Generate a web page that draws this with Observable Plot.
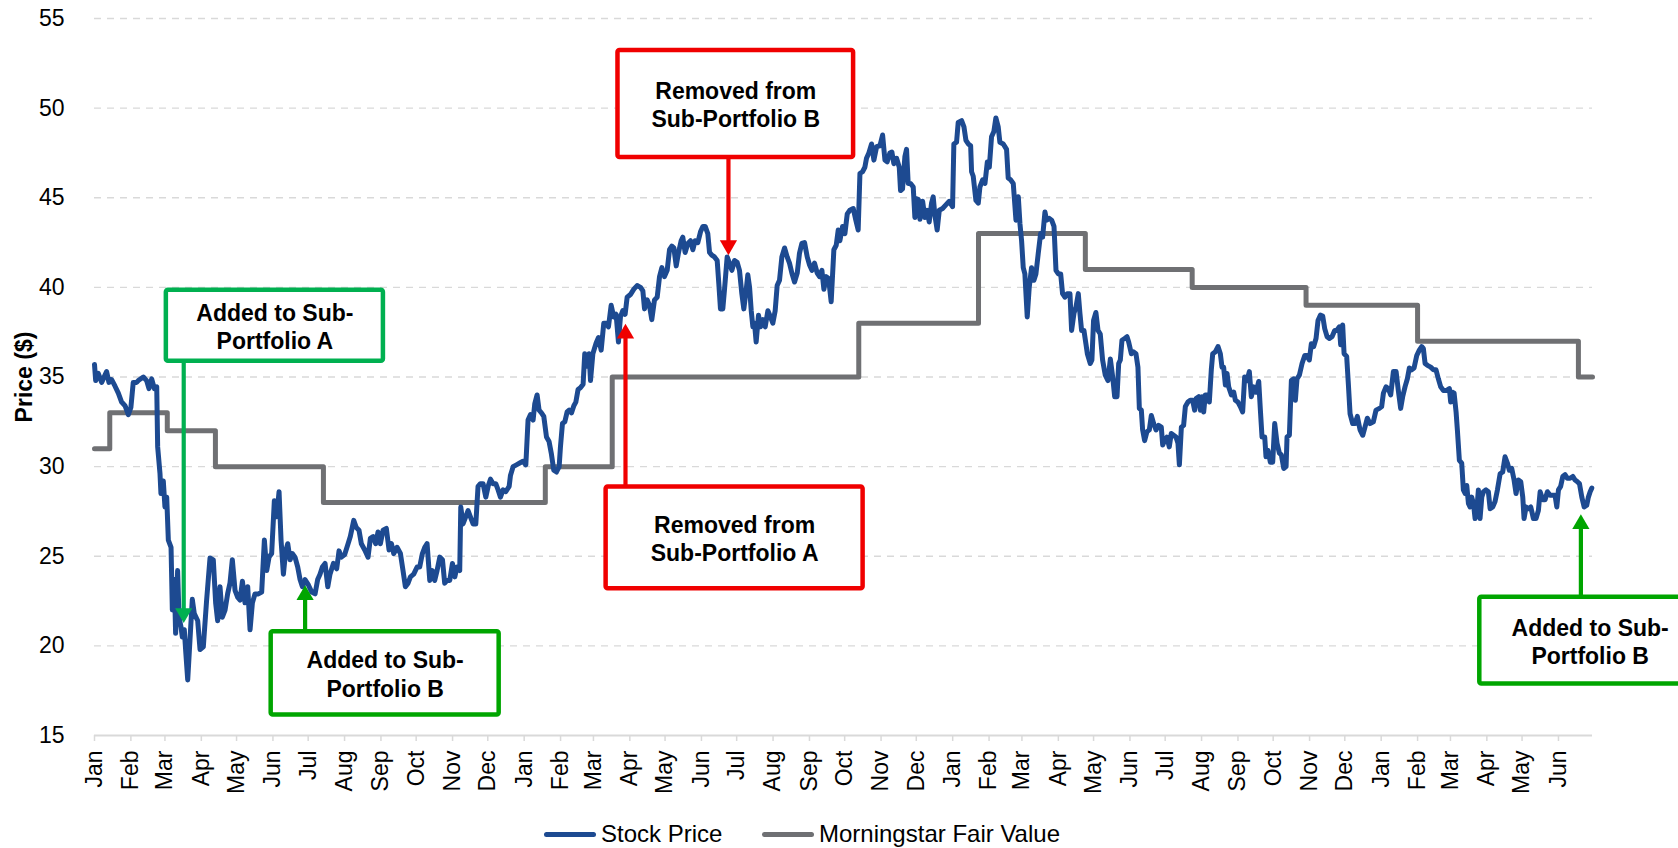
<!DOCTYPE html>
<html>
<head>
<meta charset="utf-8">
<script src="https://cdn.jsdelivr.net/npm/d3@7"></script>
<script src="https://cdn.jsdelivr.net/npm/@observablehq/plot@0.6"></script>
<style>
html, body { margin: 0; padding: 0; background: #fff; overflow: hidden; }
body { width: 1678px; height: 848px; font-family: "Liberation Sans", Arial, sans-serif; }
#legend { position: relative; height: 38px; }
.item { position: absolute; top: 5px; height: 38px; display: flex; align-items: center; font-size: 24px; color: #000; white-space: nowrap; }
.sw { display: inline-block; width: 52px; height: 5px; border-radius: 3px; margin-right: 5px; }
</style>
</head>
<body>
<div id="chart"></div>
<div id="legend"></div>
<script>
// ---------------- DATA ----------------
// Stock price: [days since 2020-01-01, price $]
const startDate = "2020-01-01";
const stockPrice = [
[0,35.7],[1,34.8],[3.2,35.2],[6.1,34.7],[10.3,35.3],[12.3,34.7],[14.6,34.85],[17.4,34.5],[20.3,34.1],[23.1,33.6],
[26,33.4],[28.8,32.9],[31,33.3],[33,34.7],[35.9,34.7],[37.3,34.8],[41.6,35.0],[44.4,34.8],[46.4,34.35],[48.7,34.9],
[51,34.35],[53,34.45],[53.8,31.1],[55.8,29.6],[56.6,28.5],[58.6,29.2],[60,27.75],[61.5,28.3],[62.9,25.9],[65.2,25.5],
[66.3,22.0],[68,23.7],[69.1,20.7],[70.8,24.2],[72,21.6],[73.7,21.05],[74.8,20.5],[76.5,20.9],[77.7,19.7],[79.4,18.1],
[81.3,20.3],[83.3,22.6],[85,21.8],[87.9,21.4],[89.9,19.8],[92.7,19.95],[95.5,22.55],[98.4,24.9],[101.2,24.8],[103.2,22.4],
[104.9,21.4],[106.9,23.3],[108.9,21.6],[111.2,22.0],[113.4,22.9],[115.4,23.5],[117.4,24.8],[119.7,23.1],[122,22.7],[124,22.55],
[126,23.6],[128.2,22.4],[130.5,23.3],[132.5,20.9],[134.5,22.4],[136.7,22.9],[139.6,22.9],[142.4,23.0],[144.7,25.9],[146.7,24.2],
[148.7,24.95],[150.9,25.15],[153.2,28.1],[155.2,27.2],[157.2,28.6],[158.9,25.9],[160.9,24.0],[162.9,25.3],[164.6,25.7],[166.6,24.8],
[168.5,25.15],[170.8,24.95],[173.1,24.4],[175.1,23.7],[177.1,23.3],[179.3,23.7],[182.2,23.4],[185,23.0],[187.9,22.9],[190.1,23.7],
[192.1,24.0],[194.1,24.4],[196.4,24.6],[198.7,23.3],[200.6,24.0],[203.5,24.6],[206.3,24.3],[208.3,25.3],[210.3,24.95],[213.1,25.1],
[216,25.7],[217.9,26.1],[220.8,27.0],[223,26.6],[225.3,26.45],[227.3,25.7],[230.2,25.35],[233,24.95],[235,26.0],[237.3,26.1],
[239.5,25.7],[241.5,26.35],[243.5,25.7],[245.8,26.45],[248.6,26.55],[250.9,25.35],[252.9,25.7],[254.9,25.15],[257.7,25.5],[260.6,25.15],
[262.8,24.2],[264.8,23.3],[267.1,23.5],[269.1,23.85],[271.9,24.0],[274.8,24.4],[277,24.4],[279.3,25.15],[281.3,25.5],[283.3,25.7],
[285.6,23.65],[287.8,24.2],[289.8,23.65],[291.8,24.2],[294.1,24.95],[296.4,24.8],[298.3,23.5],[300.3,23.65],[302.6,23.65],[304.9,24.6],
[306.9,23.85],[308.8,24.4],[311.1,24.2],[312,27.75],[313.9,26.8],[316.2,27.2],[318.2,27.55],[320.2,27.2],[322.5,26.8],[324.8,26.8],
[326.7,28.9],[328.7,29.05],[331,29.05],[333.3,28.3],[335.3,28.9],[337.3,29.3],[339.5,29.05],[341.8,29.05],[343.8,28.7],[345.8,28.3],
[348,28.7],[350.3,28.6],[353.2,28.9],[354.3,29.5],[356.6,30.0],[359.4,30.1],[362.2,30.2],[365,30.3],[367.4,30.1],[369.3,32.6],
[371.3,32.9],[373.6,32.6],[375,33.5],[377,34.0],[378.7,33.15],[380.7,33.0],[382.7,32.8],[385,31.65],[387.2,31.4],[389.2,30.7],
[391.2,29.8],[393.5,29.7],[395.8,30.0],[396.9,31.1],[398.6,32.4],[400.6,32.5],[402.6,33.05],[404.3,33.15],[406.3,33.0],[408.3,33.4],
[410,33.6],[411.9,34.3],[413.9,34.4],[416.2,34.6],[417.6,36.3],[419.6,35.6],[421.3,36.3],[422.5,34.8],[424.5,36.3],[427.3,36.9],
[429.3,37.2],[431.6,36.5],[433.8,38.0],[435.8,38.0],[437.8,37.8],[440.1,39.0],[442.3,38.35],[444.3,38.5],[446.3,36.95],[448,38.35],
[450,38.7],[452,38.5],[453.7,39.45],[456.5,39.6],[459.4,39.9],[462.2,40.1],[465.1,40.0],[467.1,39.8],[468.5,38.8],[470.8,39.3],
[472.7,39.0],[474.7,38.2],[477,39.3],[479.3,39.45],[481.3,40.6],[483.3,41.1],[485.5,40.6],[487.8,40.95],[489.8,42.1],[491.8,42.3],
[493.5,42.2],[495.5,41.2],[497.5,41.95],[499.7,42.6],[501.1,42.8],[503.1,41.95],[505.4,42.45],[507.7,42.6],[509.7,42.1],[511.6,42.6],
[513.9,42.5],[516.2,43.1],[518.2,43.4],[520.2,43.4],[522.4,43.0],[523.9,41.95],[525.8,41.8],[528.1,41.7],[530.4,41.5],[531.8,40.2],
[533.2,38.8],[535.2,38.8],[536.6,39.85],[538.9,41.7],[540.9,41.35],[542.9,40.95],[545.2,41.5],[547.4,41.4],[549.4,40.95],[551.4,39.65],
[553.1,38.8],[555.1,39.85],[556.5,40.7],[558,40.0],[559.4,38.7],[560.8,37.8],[562.2,38.0],[563.6,36.95],[565.6,38.45],[567.3,37.8],
[569.3,38.2],[571.3,37.8],[573.6,38.7],[575.8,38.35],[577.8,38.0],[579.8,38.7],[581.5,40.1],[583.5,40.4],[585.5,41.7],[587.8,42.2],
[590,41.7],[592,41.35],[594,40.8],[596.3,40.3],[598.6,40.8],[600.5,41.9],[602.5,42.45],[604.8,42.5],[607.1,41.7],[609.1,41.25],
[611.1,40.95],[613.3,41.35],[615.6,40.8],[617.6,40.6],[619.6,40.95],[621.3,39.9],[623.3,40.6],[625.3,40.5],[627.5,39.2],[629.8,42.1],
[631.8,42.35],[633.5,43.2],[634.9,42.6],[637.2,43.4],[639.2,43.0],[641.2,44.1],[643.4,44.3],[646.3,44.4],[648.5,43.75],[650.5,43.2],
[652,46.35],[654.2,46.45],[656.2,46.7],[657.6,47.2],[659.6,47.5],[661.9,48.0],[663.9,47.1],[666.2,47.85],[669,47.9],[671.3,48.5],
[673.3,47.1],[675.2,47.0],[677.5,47.5],[679.2,47.55],[680.9,46.9],[683.2,47.2],[685.5,46.7],[686.6,45.4],[688.3,45.5],[690.3,47.3],
[691.7,47.7],[693.1,45.8],[695.1,45.8],[697.4,45.6],[698.8,43.9],[700.2,44.95],[701.7,44.9],[703.1,43.8],[705.4,44.8],[707.3,43.9],
[709.3,44.3],[711,43.65],[713,44.7],[714.4,45.05],[715.9,44.0],[717.8,43.2],[719.6,44.3],[722.4,44.4],[725.2,44.6],[728.1,44.8],
[730.9,44.5],[732,48.0],[734.3,48.1],[735.7,49.2],[738.6,49.3],[740.6,48.95],[742.3,48.2],[744.3,48.0],[746.3,47.9],[747.1,46.45],
[748.5,46.2],[750.8,44.85],[752.8,44.7],[754.2,45.6],[756.5,46.0],[758.5,45.8],[760.5,47.0],[762.2,46.7],[764.1,48.4],[766.1,48.7],
[767.8,49.45],[769.8,48.95],[771.2,48.1],[774.1,48.0],[776.9,47.7],[778.3,46.1],[780.3,46.0],[782.6,45.8],[784.9,43.75],[786.9,45.05],
[788.3,43.55],[789.7,42.6],[791.1,41.1],[792.5,40.75],[794.5,38.35],[796.2,40.0],[798.2,41.1],[800.2,40.4],[801.9,40.75],[803.9,41.9],
[805.9,43.0],[807.6,42.8],[809.6,44.2],[811,43.75],[813.3,43.85],[815.3,43.75],[817.3,43.4],[819,40.95],[821,40.75],[823,40.75],
[824.6,39.65],[826.6,39.45],[828.6,39.65],[830.9,39.65],[832.3,37.6],[834.3,38.55],[836,38.9],[838,39.65],[839.4,38.55],[840.8,37.6],
[842.8,37.6],[844.5,36.85],[845.7,36.3],[848.2,35.75],[849.6,35.95],[851,38.15],[853,38.6],[854.8,37.6],[856.7,37.4],[858.7,35.95],
[861,35.1],[863.3,34.8],[865.3,36.0],[867.3,35.0],[869,33.9],[871,33.9],[872.4,35.75],[873.8,35.95],[875.2,37.05],[877.5,37.15],
[879.5,37.25],[880.9,36.95],[883.2,36.3],[885.1,36.4],[887.1,36.3],[888.8,35.55],[890,33.25],[891.7,33.15],[892.8,32.05],[894.5,31.45],
[896.5,31.95],[898.5,32.05],[900.2,32.85],[902.2,32.4],[904.2,32.05],[906.4,32.3],[908.7,32.2],[909.9,31.2],[911.5,31.45],[913.5,31.65],
[915.5,31.1],[917.2,31.85],[919.2,31.75],[921.2,31.65],[922.9,31.3],[924.1,30.1],[925.8,32.2],[927.7,32.3],[929.2,33.35],[931.4,33.6],
[933.4,33.7],[935.4,33.7],[937.1,33.15],[938.3,33.8],[940.5,33.9],[942,33.15],[943.4,33.9],[944.8,33.05],[946.2,34.0],[948.5,34.0],
[949.6,33.6],[951.3,35.4],[952.5,36.3],[954.7,36.4],[957,36.7],[959,36.3],[960.4,35.55],[961.8,35.55],[963.3,34.55],[964.7,35.2],
[966.1,34.45],[968.4,34.0],[970.4,34.15],[971.8,33.7],[974,33.6],[976,33.35],[978,33.05],[979.7,35.0],[981.7,34.8],[983.7,35.3],
[985.4,33.9],[987.4,34.45],[989.4,34.15],[991.7,34.75],[993.1,33.15],[994.5,31.65],[996.8,31.65],[997.9,30.55],[999.6,30.9],[1001.6,30.25],
[1003.6,30.25],[1005.3,32.4],[1007.3,31.3],[1009.3,30.75],[1011,30.65],[1013,29.9],[1015,30.0],[1015.8,31.65],[1017.8,31.75],[1019.5,34.8],
[1021.5,34.9],[1022.9,33.7],[1024.3,34.9],[1026.3,35.1],[1028.6,35.75],[1030.9,36.2],[1032.8,36.2],[1034.8,35.95],[1036.5,36.85],[1038.5,36.7],
[1040.5,37.15],[1042.2,38.15],[1044.2,38.45],[1046.2,38.4],[1047.9,37.7],[1049.9,37.25],[1051.9,37.15],[1054.1,37.25],[1056.4,37.6],[1058.1,37.6],
[1060.4,37.8],[1061.5,36.8],[1063.2,37.9],[1064.4,36.3],[1066.6,36.15],[1068,34.65],[1069.5,32.95],[1071.7,32.4],[1073.7,32.4],[1075.7,32.8],
[1078,32.05],[1080.3,31.75],[1082.2,32.2],[1084.2,32.7],[1086.5,32.4],[1089.3,32.5],[1091.6,33.15],[1094.5,33.25],[1096.4,33.35],[1097.9,34.1],
[1100.1,34.45],[1102.1,34.35],[1104.1,34.0],[1106.4,35.3],[1108.7,35.3],[1110.6,34.25],[1112.6,33.25],[1114.3,33.9],[1116.3,34.45],[1118.3,34.9],
[1120,35.5],[1122,35.4],[1124,35.5],[1126.3,36.2],[1128.5,36.5],[1130.5,36.7],[1131.9,36.6],[1133.4,35.75],[1135.4,35.65],[1138.2,35.55],
[1140.5,35.4],[1142.7,35.4],[1144.7,34.9],[1146.7,34.45],[1149,34.25],[1151.8,34.25],[1154.1,34.35],[1155.2,33.6],[1156.9,34.15],[1158.1,34.1],
[1159.8,33.05],[1160.9,32.05],[1162.6,30.35],[1164.6,30.2],[1166,28.7],[1167.5,28.5],[1168.9,28.95],[1170.3,27.95],[1171.7,27.75],[1173.1,28.3],
[1174.6,27.95],[1176,27.1],[1177.4,27.55],[1178.8,28.7],[1180.2,27.1],[1181.7,28.3],[1183.1,28.6],[1185.3,28.7],[1187.3,28.6],[1188.8,27.65],
[1191,27.75],[1193,28.05],[1195,28.7],[1197.3,29.6],[1199.5,29.7],[1201.5,30.55],[1203.5,30.2],[1205.2,29.8],[1207.2,29.9],[1209.2,29.25],
[1210.9,28.5],[1212.9,29.25],[1214.9,29.15],[1216.6,28.3],[1217.7,27.1],[1219.4,27.75],[1221.4,27.65],[1223.4,27.75],[1225.7,27.1],[1227.9,27.1],
[1229.9,27.55],[1231.4,28.6],[1233.6,28.15],[1235.6,28.15],[1237.6,28.6],[1239.9,28.4],[1242.2,28.4],[1244.1,28.4],[1245.6,27.75],[1247,28.7],
[1248.9,28.9],[1250.7,29.45],[1252.6,29.55],[1254.6,29.35],[1256.9,29.35],[1259.2,29.45],[1261.2,29.25],[1263.2,29.15],[1264.9,29.05],[1266.9,28.3],
[1268.9,27.75],[1271.1,27.85],[1272.5,28.3],[1274,28.6],[1275.4,28.8]
];

// Morningstar fair value (step changes)
const fairValueDates = ["2020-01-01","2020-01-14","2020-03-03","2020-04-13","2020-07-14","2021-01-19","2021-03-17",
  "2021-10-13","2022-01-23","2022-04-24","2022-07-24","2022-10-29","2023-02-01","2023-06-18","2023-06-30"];
const fairValues = [31, 33, 32, 30, 28, 30, 35, 38, 43, 41, 40, 39, 37, 35, 35];

// Axis
const xDomain = ["2020-01-01", "2023-06-30"];
const monthNames = ["Jan","Feb","Mar","Apr","May","Jun","Jul","Aug","Sep","Oct","Nov","Dec"];
const yTicks = [15, 20, 25, 30, 35, 40, 45, 50, 55];
const yGrid = [20, 25, 30, 35, 40, 45, 50, 55];
const yTitle = "Price ($)";

// Annotations (data-space): label, colour, arrow date (days since start), arrow tip price,
// box date span (days since start), box price span
const noteLabels = ["Added to Sub-\nPortfolio A", "Added to Sub-\nPortfolio B", "Removed from\nSub-Portfolio B",
  "Removed from\nSub-Portfolio A", "Added to Sub-\nPortfolio B"];
const noteColors = ["#00b050", "#00a500", "#f00000", "#f00000", "#00a500"];
const noteArrowDay = [76, 179.4, 540, 452.3, 1266.1];
const noteTipValue = [21.27, 23.39, 41.79, 37.98, 27.35];
const noteBoxDays = [[61.2, 246.1], [150.5, 344.7], [445.9, 646.6], [435.8, 654.7], [1180, 1368]];
const noteBoxValues = [[35.88, 39.84], [16.14, 20.79], [47.24, 53.21], [23.19, 28.86], [17.87, 22.71]];

// Series colours
const stockColor = "#1d4a91";
const fairColor = "#6f7073";

// ---------------- BUILD ----------------
const t0 = new Date(startDate + "T00:00:00Z").getTime();
const toDate = d => new Date(t0 + d * 864e5);
const priceData = stockPrice.map(([d, v]) => ({date: toDate(d), value: v}));
const fairData = fairValueDates.map((s, i) => ({date: new Date(s + "T00:00:00Z"), value: fairValues[i]}));
const monthTicks = d3.utcMonth.range(new Date(xDomain[0] + "T00:00:00Z"), new Date("2023-07-01T00:00:00Z"));

const headGap = 0.45; // shaft stops just inside the arrow head (price units)
const notes = noteLabels.map((label, i) => {
  const [b0, b1] = noteBoxValues[i];
  const down = noteTipValue[i] < b0;
  return {
    label, color: noteColors[i], down,
    x: toDate(noteArrowDay[i]),
    tip: noteTipValue[i],
    tail: down ? b0 : b1,
    shaftEnd: down ? noteTipValue[i] + headGap : noteTipValue[i] - headGap,
    bx1: toDate(noteBoxDays[i][0]), bx2: toDate(noteBoxDays[i][1]),
    by1: b0, by2: b1,
    cx: toDate((noteBoxDays[i][0] + noteBoxDays[i][1]) / 2),
    cy: (b0 + b1) / 2
  };
});

const chart = Plot.plot({
  width: 1678,
  height: 810,
  marginLeft: 94,
  marginRight: 86,
  marginTop: 18,
  marginBottom: 75,
  style: {fontFamily: '"Liberation Sans", Arial, sans-serif', fontSize: "23px", background: "white", color: "#000", overflow: "hidden"},
  x: {type: "utc", domain: xDomain.map(s => new Date(s + "T00:00:00Z"))},
  y: {domain: [15, 55]},
  marks: [
    Plot.ruleY(yGrid, {stroke: "#d9d9d9", strokeWidth: 1.4, strokeDasharray: "7,6"}),
    Plot.ruleY([15], {stroke: "#d9d9d9", strokeWidth: 2}),
    Plot.axisX({ticks: monthTicks, tickFormat: d => monthNames[d.getUTCMonth()], tickRotate: -90,
      tickSize: 6, tickPadding: 9, stroke: "#d9d9d9", strokeWidth: 1.5, fill: "#000", fontSize: 23, label: null}),
    Plot.axisY({ticks: yTicks, tickSize: 0, tickPadding: 30, fill: "#000", fontSize: 23, label: null}),
    Plot.text([yTitle], {text: d => d, frameAnchor: "left", textAnchor: "middle", dx: -70, rotate: -90, fontWeight: "bold", fontSize: 23, fill: "#000"}),
    Plot.line(fairData, {x: "date", y: "value", curve: "step-after", stroke: fairColor, strokeWidth: 5, strokeLinejoin: "round", strokeLinecap: "round"}),
    Plot.line(priceData, {x: "date", y: "value", stroke: stockColor, strokeWidth: 5, strokeLinejoin: "round", strokeLinecap: "round"}),
    Plot.link(notes, {x1: "x", x2: "x", y1: "tail", y2: "shaftEnd", stroke: "color", strokeWidth: 4.2}),
    Plot.dot(notes.filter(n => !n.down), {x: "x", y: "tip", symbol: "triangle", r: 6.4, fill: "color", stroke: "none", dy: 10}),
    Plot.dot(notes.filter(n => n.down), {x: "x", y: "tip", symbol: "triangle", r: 6.4, fill: "color", stroke: "none", rotate: 180, dy: -10}),
    Plot.rect(notes, {x1: "bx1", x2: "bx2", y1: "by1", y2: "by2", fill: "white", stroke: "color", strokeWidth: 4.5, rx: 2}),
    Plot.text(notes, {x: "cx", y: "cy", text: "label", fontSize: 23, fontWeight: "bold", lineHeight: 1.24, fill: "#000"})
  ]
});
document.getElementById("chart").appendChild(chart);

// Legend
const legendItems = [
  {label: "Stock Price", color: stockColor, left: 544},
  {label: "Morningstar Fair Value", color: fairColor, left: 762}
];
const legend = document.getElementById("legend");
for (const it of legendItems) {
  const el = document.createElement("div");
  el.className = "item";
  el.style.left = it.left + "px";
  el.innerHTML = `<span class="sw" style="background:${it.color}"></span><span>${it.label}</span>`;
  legend.appendChild(el);
}
</script>
</body>
</html>
